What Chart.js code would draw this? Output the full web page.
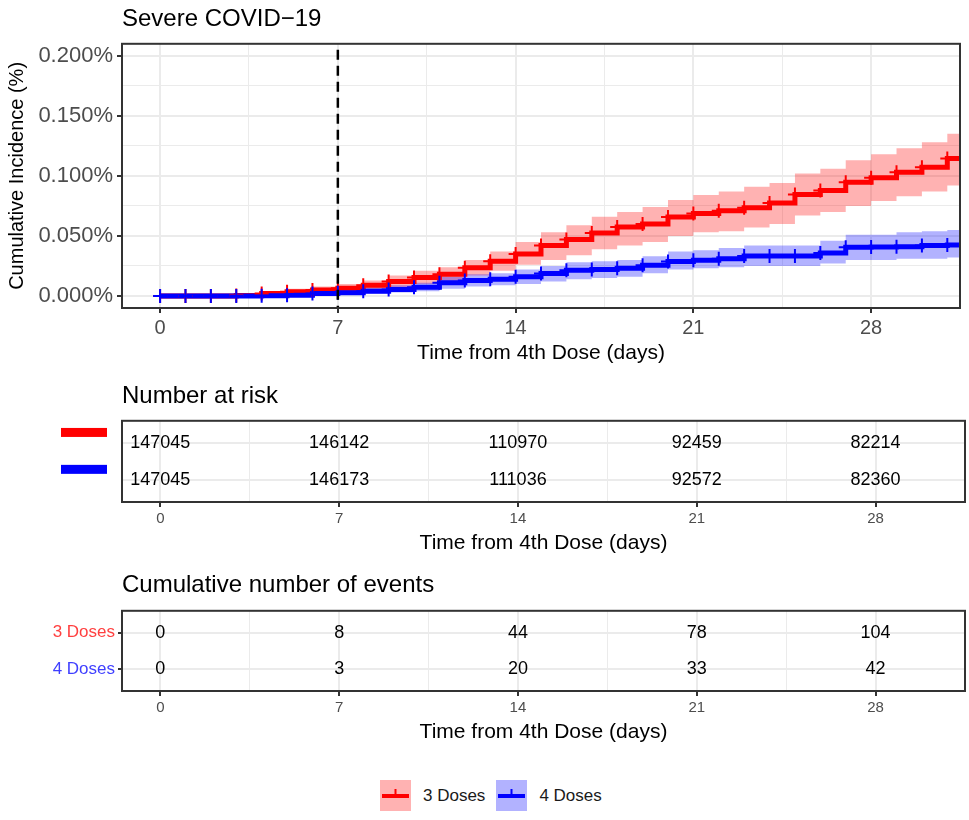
<!DOCTYPE html>
<html>
<head>
<meta charset="utf-8">
<title>Severe COVID-19 cumulative incidence</title>
<script src="https://cdn.jsdelivr.net/npm/chart.js@4.4.1/dist/chart.umd.min.js"></script>
<style>
  body { margin: 0; background: #fff; font-family: 'Liberation Sans', Arial, sans-serif; }
  #wrap { position: relative; width: 969px; height: 820px; }
  canvas { position: absolute; left: 0; }
  #legend { position: absolute; top: 780px; left: 380px; height: 31px; display: flex; align-items: center; font-size: 17px; color: #1a1a1a; }
  #legend svg { display: block; }
  #legend .lab { margin: 0 11px 0 12px; }
</style>
</head>
<body>
<div id="wrap">
  <canvas id="mainChart" width="969" height="370" style="top:0"></canvas>
  <canvas id="riskChart" width="969" height="190" style="top:370px"></canvas>
  <canvas id="eventsChart" width="969" height="189" style="top:560px"></canvas>
  <div id="legend"></div>
</div>
<script>
// groups
const groups = ['3 Doses', '4 Doses'];
const groupColors = ['#ff0000', '#0000ff'];

// days since 4th dose (censor marks at each day)
const days = [0, 1, 2, 3, 4, 5, 6, 7, 8, 9, 10, 11, 12, 13, 14, 15,
              16, 17, 18, 19, 20, 21, 22, 23, 24, 25, 26, 27, 28, 29, 30, 31];

// cumulative incidence in %, 3 doses
const cum3 = [0, 0, 0, 0.0005, 0.002, 0.0035, 0.005, 0.0065, 0.009, 0.012, 0.0155, 0.018, 0.0235, 0.029, 0.035, 0.042,
              0.047, 0.0525, 0.0575, 0.060, 0.0658, 0.0686, 0.071, 0.0735, 0.0774, 0.0846, 0.0879, 0.0948, 0.0984, 0.103, 0.1072, 0.1145];
const lo3  = [0, 0, 0, 0, 0.0005, 0.001, 0.002, 0.003, 0.005, 0.007, 0.010, 0.012, 0.017, 0.021, 0.026, 0.030,
              0.034, 0.039, 0.042, 0.045, 0.050, 0.053, 0.054, 0.057, 0.060, 0.067, 0.070, 0.075, 0.079, 0.083, 0.087, 0.092];
const hi3  = [0, 0, 0, 0.0015, 0.004, 0.006, 0.008, 0.010, 0.013, 0.017, 0.021, 0.024, 0.030, 0.037, 0.045, 0.053,
              0.059, 0.066, 0.070, 0.074, 0.080, 0.084, 0.087, 0.091, 0.094, 0.102, 0.106, 0.113, 0.118, 0.123, 0.128, 0.135];

// cumulative incidence in %, 4 doses
const cum4 = [0, 0, 0, 0, 0.0003, 0.0007, 0.002, 0.0028, 0.004, 0.0055, 0.0072, 0.011, 0.0128, 0.014, 0.016, 0.0188,
              0.0214, 0.0221, 0.023, 0.0257, 0.0288, 0.0298, 0.031, 0.0332, 0.0332, 0.0332, 0.0359, 0.0405, 0.0408, 0.041, 0.042, 0.0425];
const lo4  = [0, 0, 0, 0, 0, 0, 0.0005, 0.001, 0.002, 0.003, 0.004, 0.006, 0.008, 0.009, 0.010, 0.012,
              0.014, 0.015, 0.016, 0.019, 0.022, 0.023, 0.024, 0.025, 0.025, 0.025, 0.027, 0.030, 0.030, 0.031, 0.031, 0.032];
const hi4  = [0, 0, 0, 0, 0.001, 0.002, 0.004, 0.005, 0.007, 0.009, 0.011, 0.016, 0.018, 0.019, 0.022, 0.025,
              0.028, 0.029, 0.030, 0.033, 0.037, 0.038, 0.040, 0.042, 0.042, 0.042, 0.046, 0.051, 0.051, 0.053, 0.054, 0.055];

// tables
const tableDays = [0, 7, 14, 21, 28];
const atRisk3 = [147045, 146142, 110970, 92459, 82214];
const atRisk4 = [147045, 146173, 111036, 92572, 82360];
const events3 = [0, 8, 44, 78, 104];
const events4 = [0, 3, 20, 33, 42];

// axes
const xRange = [-1.5, 31.5];
const yRange = [-0.01, 0.21];
const xTicks = [0, 3.5, 7, 10.5, 14, 17.5, 21, 24.5, 28];
const yTicks = [0, 0.025, 0.05, 0.075, 0.1, 0.125, 0.15, 0.175, 0.2];
const refDay = 7;

Chart.defaults.font.family = "'Liberation Sans', Arial, sans-serif";
Chart.defaults.color = '#000';

const isMajor = (v, step) => Math.abs(v / step - Math.round(v / step)) < 1e-6;
const GRID = '#EBEBEB';
const DARK = '#333333';
const TICKTXT = '#4D4D4D';

const stepData = vals => days.map((d, i) => ({ x: d, y: vals[i] }))
  .concat([{ x: xRange[1], y: vals[vals.length - 1] }]);
const markData = vals => days.map((d, i) => ({ x: d, y: vals[i] }));

// panel border like theme_bw
const panelBorder = {
  id: 'panelBorder',
  afterDraw(chart) {
    const { ctx, chartArea: a } = chart;
    ctx.save();
    ctx.strokeStyle = DARK;
    ctx.lineWidth = 2;
    ctx.strokeRect(a.left, a.top, a.right - a.left, a.bottom - a.top);
    ctx.restore();
  }
};

const refLine = {
  id: 'refLine',
  afterDatasetsDraw(chart) {
    const { ctx, chartArea: a, scales } = chart;
    const x = scales.x.getPixelForValue(refDay);
    ctx.save();
    ctx.strokeStyle = '#000';
    ctx.lineWidth = 2.5;
    ctx.setLineDash([10, 6]);
    ctx.beginPath();
    ctx.moveTo(x, a.top + 6);
    ctx.lineTo(x, a.bottom);
    ctx.stroke();
    ctx.restore();
  }
};

const xScale = (tickSize, tickPad) => ({
  type: 'linear',
  min: xRange[0],
  max: xRange[1],
  afterBuildTicks: s => { s.ticks = xTicks.map(v => ({ value: v })); },
  afterFit: s => { s.height = tickSize === 20 ? 62 : 58; },
  border: { display: false },
  grid: {
    color: GRID,
    lineWidth: c => (c.tick && isMajor(c.tick.value, 7)) ? 2 : 1,
    tickColor: c => (c.tick && isMajor(c.tick.value, 7)) ? DARK : 'rgba(0,0,0,0)',
    tickWidth: 2,
    tickLength: 5
  },
  ticks: {
    autoSkip: false, maxRotation: 0, minRotation: 0,
    color: TICKTXT, font: { size: tickSize }, padding: tickPad,
    callback: v => isMajor(v, 7) ? String(v) : ''
  },
  title: {
    display: true, text: 'Time from 4th Dose (days)', color: '#000',
    font: { size: 21 }, padding: { top: 0, bottom: 4 }
  }
});

// ---- main chart
new Chart(document.getElementById('mainChart'), {
  type: 'line',
  data: {
    datasets: [
      { data: stepData(hi3), stepped: true, borderWidth: 0, borderColor: 'transparent', pointRadius: 0,
        fill: '+1', backgroundColor: 'rgba(255,0,0,0.3)', order: 10 },
      { data: stepData(lo3), stepped: true, borderWidth: 0, borderColor: 'transparent', pointRadius: 0,
        fill: false, order: 10 },
      { data: stepData(hi4), stepped: true, borderWidth: 0, borderColor: 'transparent', pointRadius: 0,
        fill: '+1', backgroundColor: 'rgba(0,0,255,0.3)', order: 9 },
      { data: stepData(lo4), stepped: true, borderWidth: 0, borderColor: 'transparent', pointRadius: 0,
        fill: false, order: 9 },
      { label: groups[0], data: stepData(cum3), stepped: true, borderColor: groupColors[0], borderWidth: 5,
        pointRadius: 0, fill: false, order: 4 },
      { label: groups[1], data: stepData(cum4), stepped: true, borderColor: groupColors[1], borderWidth: 5,
        pointRadius: 0, fill: false, order: 3 },
      { data: markData(cum3), showLine: false, pointStyle: 'cross', pointRadius: 7, pointBorderWidth: 2,
        borderColor: groupColors[0], order: 2 },
      { data: markData(cum4), showLine: false, pointStyle: 'cross', pointRadius: 7, pointBorderWidth: 2,
        borderColor: groupColors[1], order: 1 }
    ]
  },
  options: {
    animation: false, responsive: false, maintainAspectRatio: false,
    layout: { padding: { left: 0, right: 4, top: 0, bottom: 0 } },
    plugins: {
      legend: { display: false },
      tooltip: { enabled: false },
      title: {
        display: true, text: 'Severe COVID\u221219', align: 'start', fullSize: false,
        color: '#000', font: { size: 24, weight: 'normal' }, padding: { top: 5, bottom: 10 }
      }
    },
    scales: {
      x: xScale(20, 3),
      y: {
        type: 'linear',
        min: yRange[0],
        max: yRange[1],
        afterBuildTicks: s => { s.ticks = yTicks.map(v => ({ value: v })); },
        afterFit: s => { s.width = 122; },
        border: { display: false },
        grid: {
          color: GRID,
          lineWidth: c => (c.tick && isMajor(c.tick.value, 0.05)) ? 2 : 1,
          tickColor: c => (c.tick && isMajor(c.tick.value, 0.05)) ? DARK : 'rgba(0,0,0,0)',
          tickWidth: 2,
          tickLength: 5
        },
        ticks: {
          autoSkip: false, color: TICKTXT, font: { size: 22 }, padding: 4,
          callback: v => isMajor(v, 0.05) ? v.toFixed(3) + '%' : ''
        },
        title: {
          display: true, text: 'Cumulative Incidence (%)', color: '#000',
          font: { size: 20 }, padding: { top: 5, bottom: 0 }
        }
      }
    }
  },
  plugins: [refLine, panelBorder]
});

// ---- tables
const tableText = {
  id: 'tableText',
  afterDatasetsDraw(chart) {
    const { ctx } = chart;
    ctx.save();
    ctx.fillStyle = '#000';
    ctx.font = "18px 'Liberation Sans', Arial, sans-serif";
    ctx.textAlign = 'center';
    ctx.textBaseline = 'middle';
    chart.data.datasets.forEach((ds, di) => {
      chart.getDatasetMeta(di).data.forEach((el, i) => {
        ctx.fillText(String(ds.data[i].n), el.x, el.y);
      });
    });
    ctx.restore();
  }
};

const riskKeys = {
  id: 'riskKeys',
  afterDraw(chart) {
    const { ctx, chartArea: a, scales } = chart;
    ctx.save();
    chart.data.datasets.forEach(ds => {
      const y = scales.y.getPixelForValue(ds.data[0].y);
      ctx.fillStyle = ds.keyColor;
      ctx.fillRect(a.left - 61, y - 15, 46, 9);
    });
    ctx.restore();
  }
};

const tableRows = groups.map((g, i) => groups.length - i);
const tableData = counts => tableDays.map((d, i) => ({ x: d, y: 0, n: counts[i] }));
const tableDatasets = (c3, c4) => [c3, c4].map((counts, gi) => ({
  label: groups[gi],
  keyColor: groupColors[gi],
  data: tableData(counts).map(p => ({ ...p, y: tableRows[gi] })),
  pointRadius: 0,
  showLine: false
}));

const tableOptions = (title, titlePad, showLabels) => ({
  animation: false, responsive: false, maintainAspectRatio: false,
  layout: { padding: { left: 0, right: 4, top: 0, bottom: 0 } },
  plugins: {
    legend: { display: false },
    tooltip: { enabled: false },
    title: {
      display: true, text: title, align: 'start', fullSize: false,
      color: '#000', font: { size: 24, weight: 'normal' }, padding: titlePad
    }
  },
  scales: {
    x: xScale(15, 3),
    y: {
      type: 'linear', min: 0.4, max: 2.6,
      afterBuildTicks: s => { s.ticks = tableRows.map(v => ({ value: v })); },
      afterFit: s => { s.width = 122; },
      border: { display: false },
      grid: {
        color: GRID, lineWidth: 2,
        drawTicks: showLabels, tickColor: DARK, tickWidth: 2, tickLength: 4
      },
      ticks: {
        display: showLabels, autoSkip: false, padding: 3, font: { size: 17 },
        color: c => c.tick && c.tick.value === tableRows[0] ? '#ff4040' : '#4040ff',
        callback: v => groups[tableRows.indexOf(v)] || ''
      }
    }
  }
});

new Chart(document.getElementById('riskChart'), {
  type: 'scatter',
  data: { datasets: tableDatasets(atRisk3, atRisk4) },
  options: tableOptions('Number at risk', { top: 12, bottom: 10 }, false),
  plugins: [tableText, riskKeys, panelBorder]
});

new Chart(document.getElementById('eventsChart'), {
  type: 'scatter',
  data: { datasets: tableDatasets(events3, events4) },
  options: tableOptions('Cumulative number of events', { top: 11, bottom: 11 }, true),
  plugins: [tableText, panelBorder]
});

// ---- legend
const legend = document.getElementById('legend');
groups.forEach((g, i) => {
  const c = groupColors[i];
  const fillC = i === 0 ? 'rgba(255,0,0,0.3)' : 'rgba(0,0,255,0.3)';
  legend.insertAdjacentHTML('beforeend',
    '<svg width="31" height="31"><rect x="0" y="0" width="31" height="31" fill="' + fillC + '"/>' +
    '<line x1="2" y1="16" x2="29" y2="16" stroke="' + c + '" stroke-width="4"/>' +
    '<line x1="15.5" y1="9" x2="15.5" y2="16" stroke="' + c + '" stroke-width="2"/></svg>' +
    '<span class="lab">' + g + '</span>');
});
</script>
</body>
</html>
